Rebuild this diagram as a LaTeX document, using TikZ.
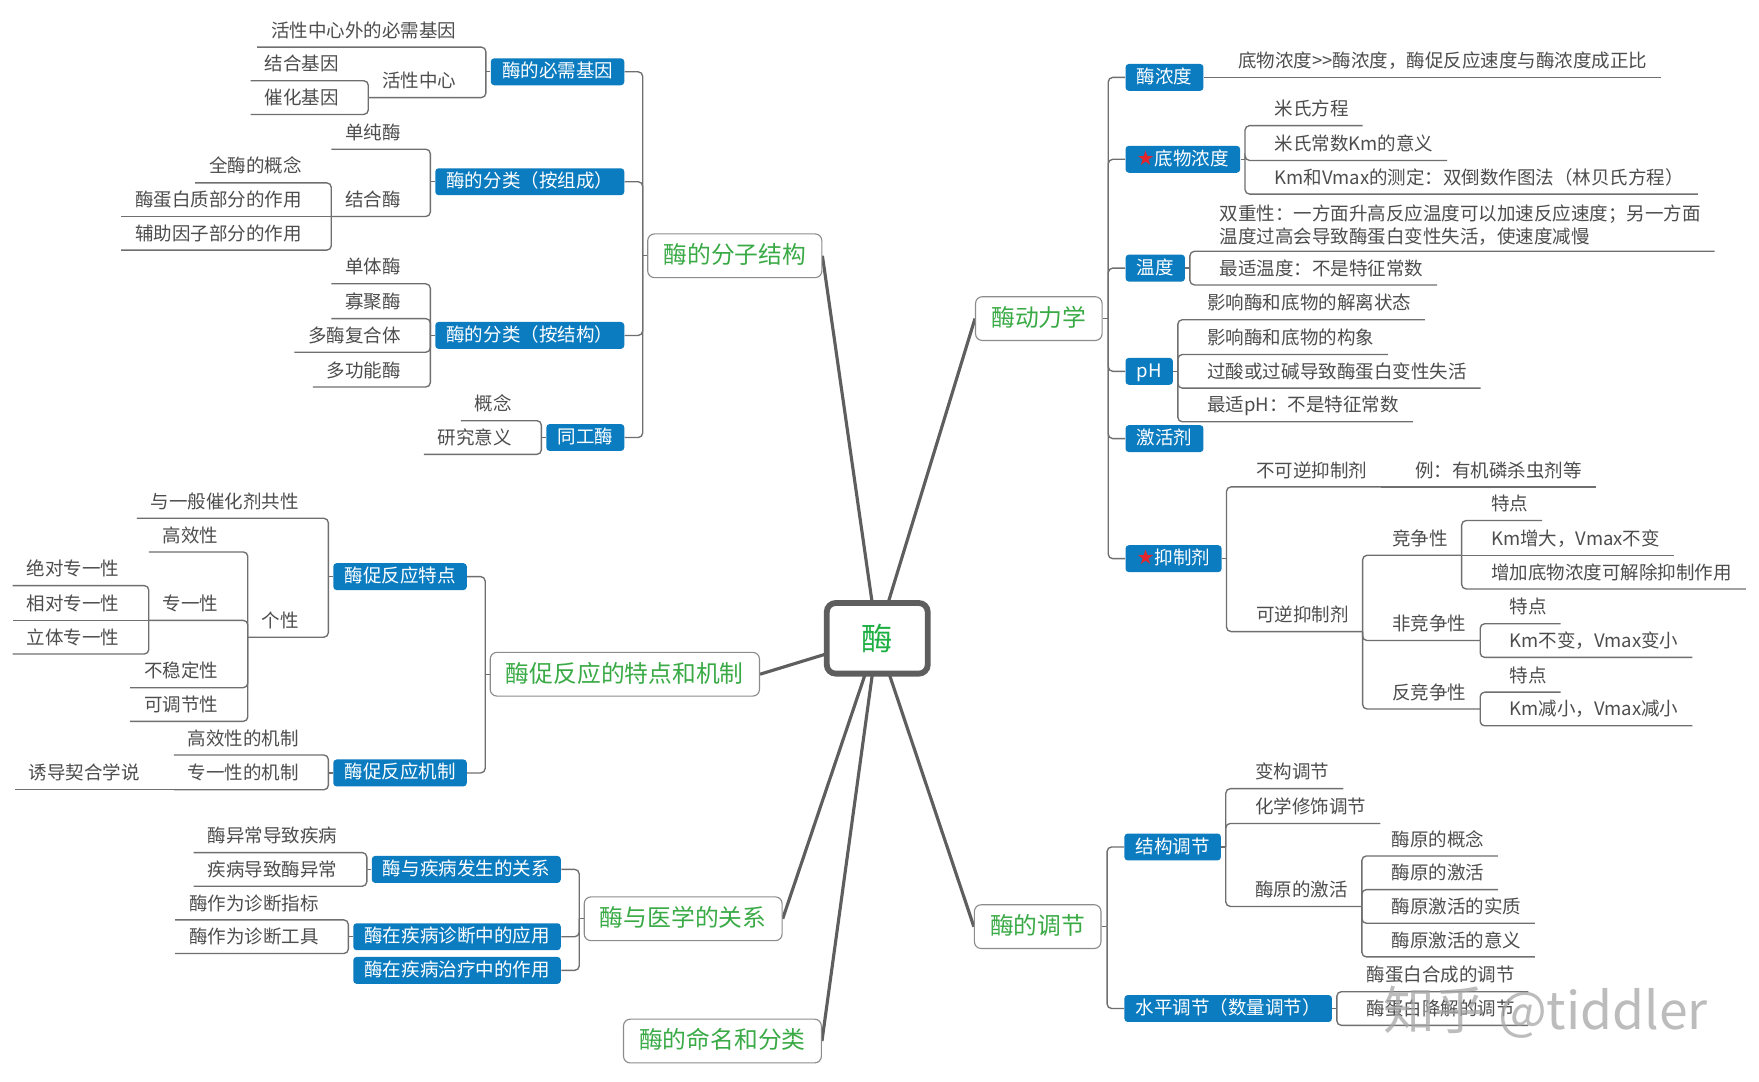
\documentclass[tikz,border=0pt]{standalone}
\usepackage{fontspec}
\newfontfamily\cjk{Noto Sans CJK SC}
\newfontfamily\starfont{DejaVu Sans}
\usepackage{xcolor}
\definecolor{xblue}{HTML}{0C7CC0}
\definecolor{leafgray}{HTML}{4D4D4D}
\definecolor{linegray}{HTML}{6F6F6F}
\definecolor{framegray}{HTML}{8C8C8C}
\definecolor{rootgray}{HTML}{5E5E5E}
\definecolor{topicgreen}{HTML}{3AAA46}
\definecolor{rootgreen}{HTML}{1EAF42}
\definecolor{starred}{HTML}{E3262B}
\usepackage{tikz}
\usetikzlibrary{calc,backgrounds}

\tikzset{
  leaf/.style={text=leafgray, font=\cjk\fontsize{8.25pt}{10pt}\selectfont,
    inner xsep=6pt, inner ysep=2.6pt, text height=7pt, text depth=1.6pt},
  sub/.style={fill=xblue, text=white, rounded corners=1.5pt,
    font=\cjk\fontsize{8.25pt}{10pt}\selectfont, inner xsep=5pt, inner ysep=0pt,
    minimum height=12pt, text height=7pt, text depth=1.6pt},
  topic/.style={draw=framegray, line width=0.5pt, fill=white, rounded corners=3pt,
    text=topicgreen, font=\cjk\fontsize{10.6pt}{12pt}\selectfont, inner xsep=7pt,
    minimum height=19.5pt, text height=9pt, text depth=2pt},
  root/.style={draw=rootgray, line width=2.6pt, fill=white, rounded corners=4pt,
    text=rootgreen, font=\cjk\fontsize{14pt}{16pt}\selectfont,
    minimum width=45pt, minimum height=31.5pt},
  conn/.style={draw=linegray, line width=0.6pt, rounded corners=2pt},
  branch/.style={draw=rootgray, line width=1.4pt},
}
\newcommand{\redstar}{{\starfont\fontsize{9pt}{9pt}\selectfont\color{starred}★}}

% children that hang to the left / right of a bar point
\newcommand{\leftkids}[3]{%
  \path (#1) ++(-14,0) coordinate (#2r);
  \foreach \n/\y/\lbl in {#3} {
    \node[leaf,anchor=south east] (#2\n) at (#2r |- 0,\y) {\lbl};
    \draw[conn] (#1) |- (#2\n.south east) -- (#2\n.south west);
  }%
}
\newcommand{\rightkids}[3]{%
  \path (#1) ++(14,0) coordinate (#2l);
  \foreach \n/\y/\lbl in {#3} {
    \node[leaf,anchor=south west] (#2\n) at (#2l |- 0,\y) {\lbl};
    \draw[conn] (#1) |- (#2\n.south west) -- (#2\n.south east);
  }%
}

\begin{document}
\begin{tikzpicture}[x=0.5pt,y=-0.5pt]
  \useasboundingbox (0,0) rectangle (1568,964);
  % centre and main topics
  \node[root] (mei) at (782,569) {酶};
  \node[topic] (fzjg) at (655,228) {酶的分子结构};
  \node[topic] (tdjz) at (557,601) {酶促反应的特点和机制};
  \node[topic] (yx) at (609,819) {酶与医学的关系};
  \node[topic] (mmfl) at (644,928) {酶的命名和分类};
  \node[topic] (dlx) at (926,284) {酶动力学};
  \node[topic] (tj) at (925,826) {酶的调节};
  \begin{scope}[on background layer]
    \fill[white] (0,0) rectangle (1568,964);
    \foreach \tp/\an in {fzjg/east,tdjz/east,yx/east,mmfl/east,dlx/west,tj/west}
      \draw[branch] (mei.center) -- (\tp.\an);
  \end{scope}

  % molecular structure
  \draw[conn] (fzjg.west) -- ++(-4,0) coordinate (fzbar);
  \path (fzbar) ++(-16,0) coordinate (fzr);
  \node[sub,anchor=east] (bxjy) at (fzr |- 0,64) {酶的必需基因};
  \node[sub,anchor=east] (flzc) at (fzr |- 0,162) {酶的分类（按组成）};
  \node[sub,anchor=east] (fljg) at (fzr |- 0,299) {酶的分类（按结构）};
  \node[sub,anchor=east] (tgm) at (fzr |- 0,390) {同工酶};
  \foreach \bx in {bxjy,flzc,fljg,tgm} \draw[conn] (fzbar) |- (\bx.east);

  \draw[conn] (bxjy.west) -- ++(-4,0) coordinate (bjbar);
  \leftkids{bjbar}{bj}{1/42/活性中心外的必需基因, 2/87/活性中心}
  \leftkids{bj2.south west}{hx}{1/72/结合基因, 2/102/催化基因}

  \draw[conn] (flzc.west) -- ++(-4,0) coordinate (zcbar);
  \leftkids{zcbar}{zc}{1/133/单纯酶, 2/193/结合酶}
  \leftkids{zc2.south west}{jh}{1/163/全酶的概念, 3/223/辅助因子部分的作用}
  \node[leaf,anchor=south east] (jh2) at (jhr |- 0,193) {酶蛋白质部分的作用};
  \draw[conn] (zc2.south west) -- (jh2.south west);

  \draw[conn] (fljg.west) -- ++(-4,0) coordinate (jgbar);
  \leftkids{jgbar}{jg}{1/253/单体酶, 2/284/寡聚酶, 3/314/多酶复合体, 4/345/多功能酶}

  \draw[conn] (tgm.west) -- ++(-4,0) coordinate (tgbar);
  \leftkids{tgbar}{tg}{1/375/概念, 2/405/研究意义}

  % features and mechanism
  \draw[conn] (tdjz.west) -- ++(-4,0) coordinate (tdbar);
  \path (tdbar) ++(-16,0) coordinate (tdr);
  \node[sub,anchor=east] (tdian) at (tdr |- 0,514) {酶促反应特点};
  \node[sub,anchor=east] (jzhi) at (tdr |- 0,689) {酶促反应机制};
  \foreach \bx in {tdian,jzhi} \draw[conn] (tdbar) |- (\bx.east);

  \draw[conn] (tdian.west) -- ++(-4,0) coordinate (txbar);
  \leftkids{txbar}{tx}{1/462/与一般催化剂共性, 2/568/个性}
  \leftkids{tx2.south west}{gx}{1/492/高效性, 2/553/专一性, 3/613/不稳定性, 4/643/可调节性}
  \leftkids{gx2.south west}{zy}{1/522/绝对专一性, 3/583/立体专一性}
  \node[leaf,anchor=south east] (zy2) at (zyr |- 0,553) {相对专一性};
  \draw[conn] (gx2.south west) -- (zy2.south west);

  \draw[conn] (jzhi.west) -- ++(-4,0) coordinate (jxbar);
  \leftkids{jxbar}{jx}{1/673/高效性的机制, 2/704/专一性的机制}
  \node[leaf,anchor=south east] (jx3) at ([xshift=-9pt]jx2.south west) {诱导契合学说};
  \draw[conn] (jx2.south west) -- (jx3.south west);

  % medicine
  \draw[conn] (yx.west) -- ++(-4,0) coordinate (yxbar);
  \path (yxbar) ++(-16,0) coordinate (yxr);
  \node[sub,anchor=east] (jbfs) at (yxr |- 0,775) {酶与疾病发生的关系};
  \node[sub,anchor=east] (zdyy) at (yxr |- 0,835) {酶在疾病诊断中的应用};
  \node[sub,anchor=east] (zlzy) at (yxr |- 0,865) {酶在疾病治疗中的作用};
  \foreach \bx in {jbfs,zdyy,zlzy} \draw[conn] (yxbar) |- (\bx.east);

  \draw[conn] (jbfs.west) -- ++(-4,0) coordinate (fsbar);
  \leftkids{fsbar}{fs}{1/760/酶异常导致疾病, 2/790/疾病导致酶异常}
  \draw[conn] (zdyy.west) -- ++(-4,0) coordinate (zdbar);
  \leftkids{zdbar}{zd}{1/820/酶作为诊断指标, 2/850/酶作为诊断工具}

  % kinetics
  \draw[conn] (dlx.east) -- ++(5,0) coordinate (dlbar);
  \path (dlbar) ++(15,0) coordinate (dll);
  \node[sub,anchor=west] (mnd) at (dll |- 0,69) {酶浓度};
  \node[sub,anchor=west] (dwnd) at (dll |- 0,142) {\redstar 底物浓度};
  \node[sub,anchor=west] (wdu) at (dll |- 0,239) {温度};
  \node[sub,anchor=west] (ph) at (dll |- 0,331) {pH};
  \node[sub,anchor=west] (jhj) at (dll |- 0,391) {激活剂};
  \node[sub,anchor=west] (yzj) at (dll |- 0,498) {\redstar 抑制剂};
  \foreach \bx in {mnd,dwnd,wdu,ph,jhj,yzj} \draw[conn] (dlbar) |- (\bx.west);

  \node[leaf,anchor=south west] (nd1) at ([xshift=9pt]mnd.east) {底物浓度>>酶浓度，酶促反应速度与酶浓度成正比};
  \draw[conn] (mnd.east) -- (nd1.south west) -- (nd1.south east);

  \draw[conn] (dwnd.east) -- ++(4,0) coordinate (dwbar);
  \rightkids{dwbar}{dw}{1/112/米氏方程, 2/143/米氏常数Km的意义, 3/173/Km和Vmax的测定：双倒数作图法（林贝氏方程）}

  \draw[conn] (wdu.east) -- ++(4,0) coordinate (wdbar);
  \rightkids{wdbar}{wd}{2/254/最适温度：不是特征常数}
  \node[leaf,text height=,text depth=,align=left,anchor=south west] (wd1) at (wdl |- 0,224)
    {双重性：一方面升高反应温度可以加速反应速度；另一方面\\温度过高会导致酶蛋白变性失活，使速度减慢};
  \draw[conn] (wdbar) |- (wd1.south west) -- (wd1.south east);

  \draw[conn] (ph.east) -- ++(4,0) coordinate (pabar);
  \rightkids{pabar}{pa}{1/285/影响酶和底物的解离状态, 2/316/影响酶和底物的构象, 3/346/过酸或过碱导致酶蛋白变性失活, 4/376/最适pH：不是特征常数}

  \draw[conn] (yzj.east) -- ++(4,0) coordinate (yzbar);
  \rightkids{yzbar}{yz}{1/434/不可逆抑制剂, 2/563/可逆抑制剂}
  \node[leaf,anchor=south west] (yz3) at ([xshift=9pt]yz1.south east) {例：有机磷杀虫剂等};
  \draw[conn] (yz1.south east) -- (yz3.south west) -- (yz3.south east);
  \rightkids{yz2.south east}{kn}{1/495/竞争性, 2/571/非竞争性, 3/632/反竞争性}
  \rightkids{kn1.south east}{ja}{1/464/特点, 3/525/增加底物浓度可解除抑制作用}
  \node[leaf,anchor=south west] (ja2) at (jal |- 0,495) {Km增大，Vmax不变};
  \draw[conn] (kn1.south east) -- (ja2.south east);
  \rightkids{kn2.south east}{jb}{1/556/特点, 2/586/Km不变，Vmax变小}
  \rightkids{kn3.south east}{jc}{1/617/特点, 2/647/Km减小，Vmax减小}

  % regulation
  \draw[conn] (tj.east) -- ++(5,0) coordinate (tjbar);
  \path (tjbar) ++(15,0) coordinate (tjl);
  \node[sub,anchor=west] (jgtj) at (tjl |- 0,755) {结构调节};
  \node[sub,anchor=west] (sptj) at (tjl |- 0,899) {水平调节（数量调节）};
  \foreach \bx in {jgtj,sptj} \draw[conn] (tjbar) |- (\bx.west);

  \draw[conn] (jgtj.east) -- ++(4,0) coordinate (jtbar);
  \rightkids{jtbar}{jt}{1/703/变构调节, 2/734/化学修饰调节, 3/808/酶原的激活}
  \rightkids{jt3.south east}{my}{1/763/酶原的概念, 2/793/酶原的激活, 3/823/酶原激活的实质, 4/853/酶原激活的意义}
  \draw[conn] (sptj.east) -- ++(4,0) coordinate (spbar);
  \rightkids{spbar}{sp}{1/884/酶蛋白合成的调节, 2/914/酶蛋白降解的调节}

  % watermark
  \node[text=gray!70, opacity=0.75, font=\cjk\fontsize{23pt}{26pt}\selectfont, anchor=west] (wm) at (1226,902) {知乎 @tiddler};
\end{tikzpicture}
\end{document}
